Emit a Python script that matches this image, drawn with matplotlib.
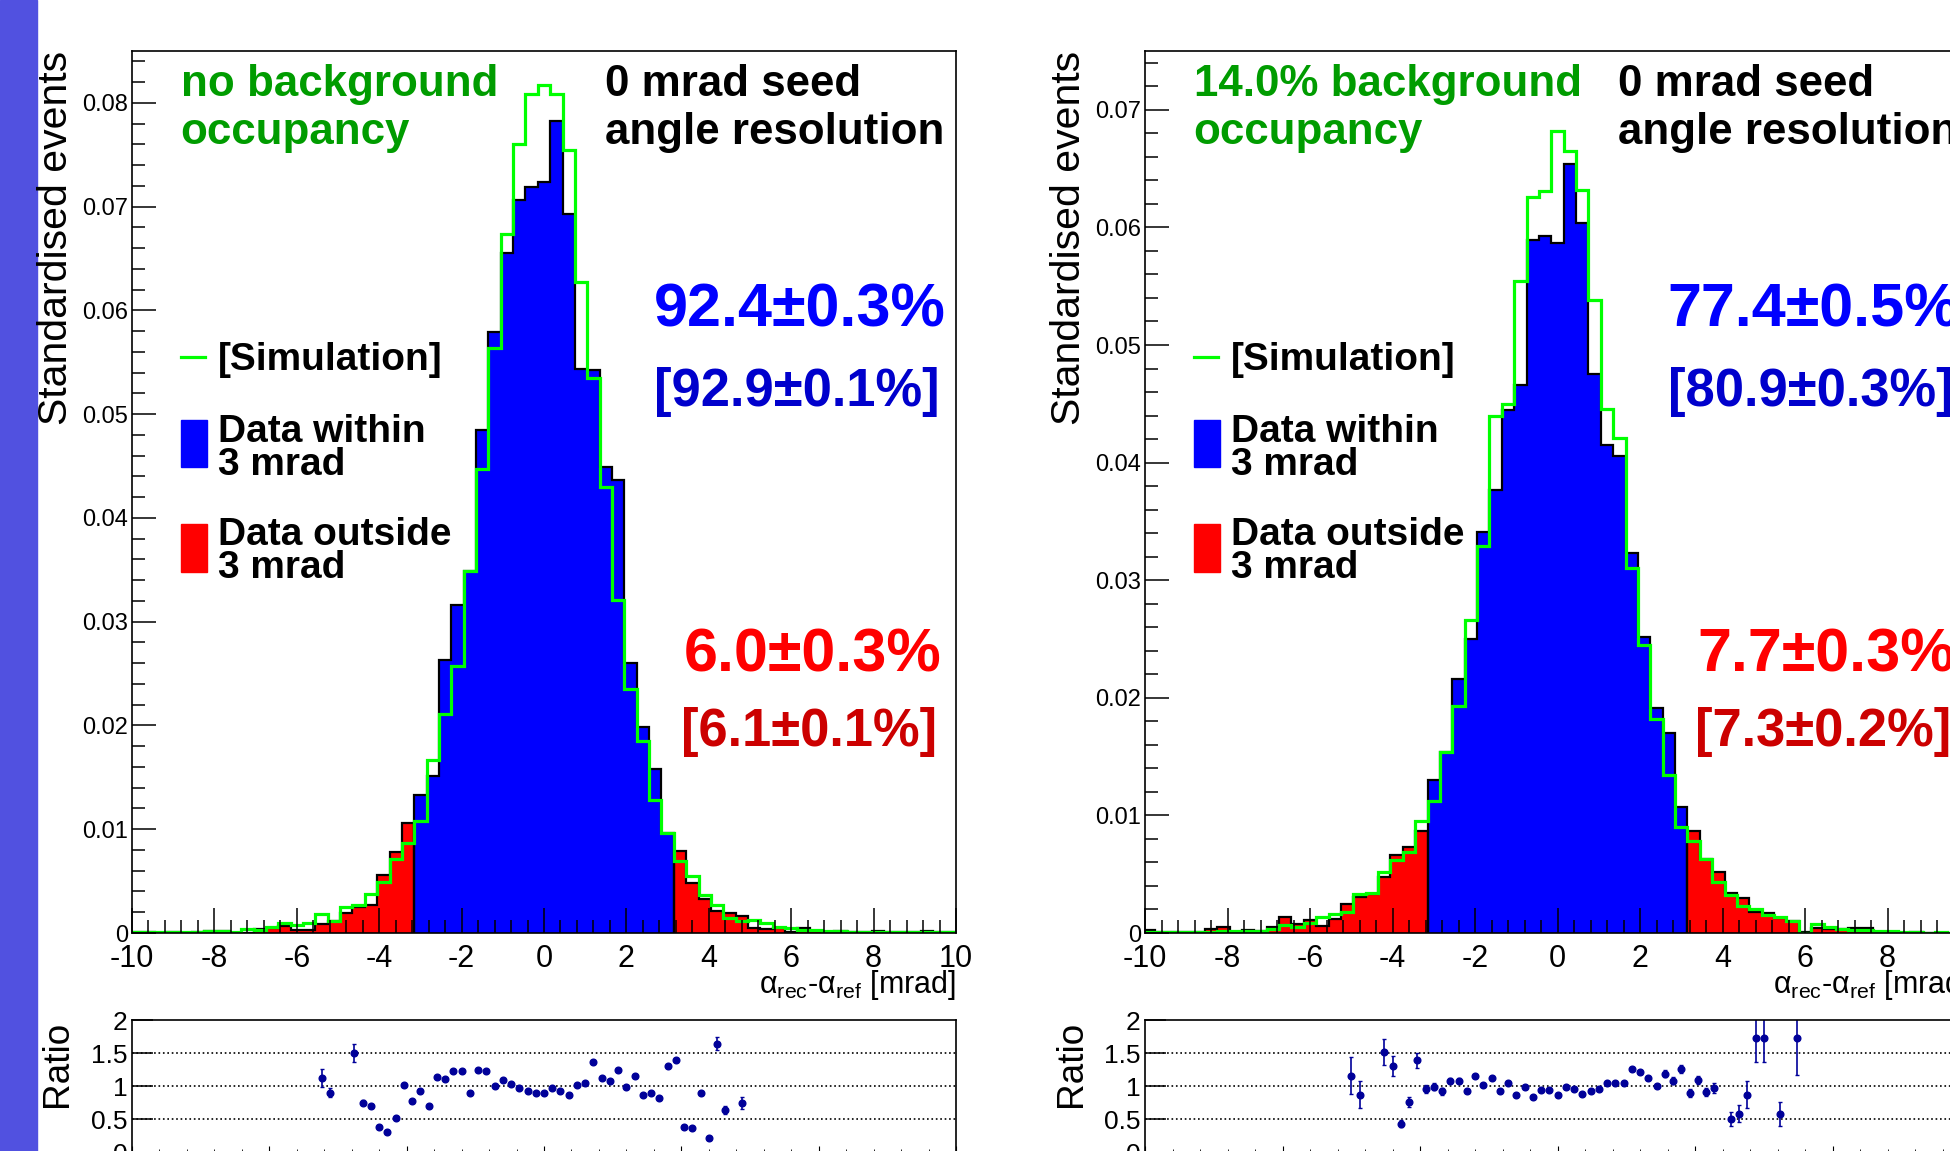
import numpy as np
import matplotlib.pyplot as plt
from matplotlib.patches import Rectangle
from matplotlib.ticker import MultipleLocator, FuncFormatter

plt.rcParams['font.family'] = ['Liberation Sans', 'DejaVu Sans']
plt.rcParams['mathtext.fontset'] = 'custom'
plt.rcParams['mathtext.rm'] = 'Liberation Sans'
plt.rcParams['axes.unicode_minus'] = False

W, H = 1950, 1151

# bins of 0.3 mrad, centred on 0.3*m
bin_width = 0.3
bin_m = np.arange(-33, 34)

# left: no background
data_L = [0.00005, 0.00005, 0.0, 0.00005, 0.0, 0.0001, 0.0002, 0.00018, 0.0, 0.0,
          0.0004, 0.00045, 0.0007, 0.0003, 0.0003, 0.0009, 0.0012, 0.0019, 0.0025, 0.0027,
          0.0056, 0.0078, 0.0106, 0.0133, 0.0151, 0.0263, 0.0316, 0.0349, 0.0485, 0.0579,
          0.0655, 0.0706, 0.0719, 0.0724, 0.0783, 0.0693, 0.0544, 0.0543, 0.0449, 0.0437,
          0.0260, 0.0199, 0.0158, 0.0096, 0.0079, 0.0048, 0.0033, 0.0021, 0.0019, 0.0016,
          0.0005, 0.00035, 0.0005, 0.0001, 0.0005, 0.0002, 0.0, 0.00015, 0.00005, 0.00005,
          0.0002, 0.0001, 0.00005, 0.00005, 0.0002, 0.00005, 0.00005]
sim_L = [0.00005, 0.00005, 0.00005, 0.00005, 0.00005, 0.0001, 0.0002, 0.0002, 0.0001, 0.0004,
         0.00026, 0.0006, 0.0010, 0.0008, 0.0010, 0.0018, 0.0012, 0.0025, 0.0027, 0.0038,
         0.0049, 0.0071, 0.0087, 0.0108, 0.0167, 0.0211, 0.0257, 0.0349, 0.0447, 0.0564,
         0.0674, 0.0760, 0.0809, 0.0817, 0.0809, 0.0755, 0.0627, 0.0535, 0.0430, 0.0321,
         0.0235, 0.0185, 0.0128, 0.0096, 0.0069, 0.0055, 0.0037, 0.0027, 0.00145, 0.00115,
         0.0013, 0.0010, 0.0006, 0.00045, 0.0003, 0.0003, 0.0002, 0.0002, 0.0001, 0.0001,
         0.0001, 0.0001, 0.0001, 0.00005, 0.00005, 0.00005, 0.0001]

# right: 14% background
data_R = [0.00025, 0.0001, 0.00005, 0.0001, 0.0001, 0.0003, 0.0005, 0.0001, 0.00023, 0.00017,
          0.0005, 0.0014, 0.0008, 0.0011, 0.0006, 0.0012, 0.0025, 0.0031, 0.0033, 0.0048,
          0.0066, 0.0073, 0.0087, 0.0130, 0.0154, 0.0216, 0.0250, 0.0341, 0.0377, 0.0445,
          0.0466, 0.0589, 0.0593, 0.0587, 0.0654, 0.0604, 0.0475, 0.0415, 0.0406, 0.0323,
          0.0252, 0.0191, 0.0170, 0.0107, 0.0087, 0.0063, 0.0052, 0.0034, 0.0030, 0.0018,
          0.0017, 0.0013, 0.0010, 0.0001, 0.0004, 0.0003, 0.0003, 0.0004, 0.0004, 0.0,
          0.0001, 0.0, 0.0001, 0.0, 0.0, 0.0, 0.0]
sim_R = [0.00005, 0.00005, 0.00005, 0.0001, 0.0001, 0.0001, 0.0002, 0.0002, 0.0002, 0.0002,
         0.0003, 0.0007, 0.00053, 0.00085, 0.0014, 0.0016, 0.0018, 0.0033, 0.0034, 0.0052,
         0.0062, 0.0069, 0.0095, 0.0112, 0.0154, 0.0193, 0.0266, 0.0329, 0.0440, 0.0450,
         0.0554, 0.0626, 0.0631, 0.0682, 0.0665, 0.0632, 0.0538, 0.0446, 0.0421, 0.0310,
         0.0245, 0.0182, 0.0134, 0.0090, 0.0078, 0.0063, 0.0043, 0.0032, 0.0023, 0.0020,
         0.00155, 0.0014, 0.0010, 0.0, 0.0008, 0.0005, 0.00035, 0.00023, 0.00023, 0.0002,
         0.00017, 0.0001, 0.00006, 0.0, 0.0001, 0.0, 0.0001]

# ratio points (bin index m, value, error)
ratio_m_L = [-27, -26] + list(range(-23, 23)) + [24]
ratio_y_L = [1.12, 0.90, 1.50, 0.75, 0.70, 0.38, 0.30, 0.52, 1.02, 0.78, 0.93, 0.70,
             1.13, 1.11, 1.23, 1.23, 0.90, 1.24, 1.23, 1.00, 1.09, 1.03, 0.97, 0.93,
             0.89, 0.89, 0.97, 0.92, 0.87, 1.02, 1.04, 1.36, 1.12, 1.08, 1.24, 0.99,
             1.16, 0.87, 0.90, 0.82, 1.31, 1.40, 0.38, 0.36, 0.90, 0.22, 1.64, 0.64, 0.75]
ratio_e_L = [0.14, 0.07, 0.13, 0.04, 0.03, 0.03, 0.03, 0.03, 0.03, 0.03, 0.03, 0.03,
             0.03, 0.02, 0.02, 0.02, 0.02, 0.02, 0.02, 0.02, 0.02, 0.02, 0.02, 0.02,
             0.02, 0.02, 0.02, 0.02, 0.02, 0.02, 0.02, 0.02, 0.02, 0.02, 0.02, 0.02,
             0.02, 0.02, 0.02, 0.02, 0.03, 0.03, 0.03, 0.03, 0.03, 0.03, 0.10, 0.06, 0.09]

ratio_m_R = [-25, -24] + list(range(-21, 20)) + [21, 22, 23, 24, 25, 27, 29]
ratio_y_R = [1.16, 0.87, 1.52, 1.31, 0.43, 0.76, 1.39, 0.96, 0.99, 0.92, 1.08, 1.08,
             0.92, 1.15, 1.01, 1.12, 0.93, 1.04, 0.86, 0.99, 0.84, 0.94, 0.94, 0.86,
             0.99, 0.96, 0.88, 0.93, 0.96, 1.05, 1.05, 1.05, 1.26, 1.21, 1.12, 1.00,
             1.19, 1.08, 1.26, 0.90, 1.09, 0.91, 0.97, 0.50, 0.58, 0.87, 1.73, 1.73,
             0.58, 1.73]
ratio_e_R = [0.28, 0.20, 0.20, 0.15, 0.05, 0.08, 0.11, 0.06, 0.05, 0.05, 0.04, 0.04,
             0.03, 0.03, 0.03, 0.03, 0.03, 0.03, 0.03, 0.03, 0.03, 0.03, 0.03, 0.03,
             0.03, 0.03, 0.03, 0.03, 0.03, 0.03, 0.03, 0.03, 0.03, 0.03, 0.03, 0.03,
             0.05, 0.05, 0.06, 0.06, 0.06, 0.06, 0.07, 0.11, 0.13, 0.20, 0.36, 0.36,
             0.18, 0.56]

edges = np.append(bin_m - 0.5, bin_m[-1] + 0.5) * bin_width
inside = np.abs(bin_m) <= 10


def ytick_fmt(v, pos):
    if abs(v) < 1e-9:
        return '0'
    return '%.2f' % v


def draw_panel(fig, x0, width, data, sim, ymax, head1, head2,
               pin, pin_sim, pout, pout_sim, rm, ry, re):
    data = np.asarray(data)
    sim = np.asarray(sim)
    ax = fig.add_axes([x0 / W, 1 - 933 / H, width / W, 882 / H])
    i0 = np.argmax(inside)
    i1 = i0 + inside.sum()
    segs = [(0, i0, 'red'), (i0, i1, 'blue'), (i1, len(data), 'red')]
    for a, b, c in segs:
        ax.stairs(data[a:b], edges[a:b + 1], fill=True, color=c, lw=0)
    for a, b, c in segs:
        ax.stairs(data[a:b], edges[a:b + 1], color='black', lw=1.6, baseline=0)
    ax.stairs(sim, edges, color='#00ff00', lw=2.3, baseline=None)
    ax.set_xlim(-10, 10)
    ax.set_ylim(0, ymax)
    ax.xaxis.set_major_locator(MultipleLocator(2))
    ax.xaxis.set_minor_locator(MultipleLocator(0.4))
    ax.yaxis.set_major_locator(MultipleLocator(0.01))
    ax.yaxis.set_minor_locator(MultipleLocator(0.002))
    ax.yaxis.set_major_formatter(FuncFormatter(ytick_fmt))
    ax.tick_params(axis='x', which='major', direction='in', length=18, width=1.1,
                   labelsize=22, pad=8, top=False)
    ax.tick_params(axis='x', which='minor', direction='in', length=9.5, width=1.1, top=False)
    ax.tick_params(axis='y', which='major', direction='in', length=17, width=1.1,
                   labelsize=17, pad=3, right=False)
    ax.tick_params(axis='y', which='minor', direction='in', length=9, width=1.1, right=False)
    for sp in ax.spines.values():
        sp.set_linewidth(1.2)

    ax.text(1.0, -0.068, r'α$_{\rm rec}$-α$_{\rm ref}$ [mrad]', transform=ax.transAxes,
            ha='right', va='baseline', fontsize=22)

    tk = dict(transform=ax.transAxes, va='baseline', fontweight='bold')
    ax.text(0.0589, 0.949, head1, color='#009c00', fontsize=31.6, ha='left', **tk)
    ax.text(0.0589, 0.8946, head2, color='#009c00', fontsize=31.6, ha='left', **tk)
    ax.text(0.5736, 0.949, '0 mrad seed', color='black', fontsize=31.6, ha='left', **tk)
    ax.text(0.5736, 0.8946, 'angle resolution', color='black', fontsize=31.6, ha='left', **tk)
    ax.text(0.987, 0.688, pin, color='#0000ff', fontsize=44, ha='right', **tk)
    ax.text(0.980, 0.597, pin_sim, color='#0000cc', fontsize=37.8, ha='right', **tk)
    ax.text(0.982, 0.296, pout, color='#ff0000', fontsize=44, ha='right', **tk)
    ax.text(0.977, 0.212, pout_sim, color='#cc0000', fontsize=37.8, ha='right', **tk)

    # legend
    ax.plot([0.0589, 0.089], [0.653, 0.653], color='#00ff00', lw=2.3,
            transform=ax.transAxes)
    ax.text(0.104, 0.638, '[Simulation]', fontsize=28, ha='left', **tk)
    ax.add_patch(Rectangle((0.0589, 0.528), 0.0317, 0.0535, color='blue',
                           transform=ax.transAxes))
    ax.text(0.104, 0.557, 'Data within', fontsize=28, ha='left', **tk)
    ax.text(0.104, 0.519, '3 mrad', fontsize=28, ha='left', **tk)
    ax.add_patch(Rectangle((0.0589, 0.409), 0.0317, 0.055, color='red',
                           transform=ax.transAxes))
    ax.text(0.104, 0.440, 'Data outside', fontsize=28, ha='left', **tk)
    ax.text(0.104, 0.402, '3 mrad', fontsize=28, ha='left', **tk)

    fig.text((x0 - 76) / W, 1 - 51 / H, 'Standardised events', rotation=90,
             ha='center', va='top', fontsize=29.5)

    # ratio pad
    rx = fig.add_axes([x0 / W, -0.001, width / W, 131 / H + 0.001])
    rx.errorbar(np.asarray(rm) * bin_width, ry, yerr=re, fmt='o', color='#000099',
                ms=4.8, elinewidth=1.2, capsize=1.5, capthick=1.0)
    for lvl in (0.5, 1.0, 1.5):
        rx.axhline(lvl, color='black', ls=':', lw=1.2, zorder=0)
    rx.set_xlim(-15, 15)
    rx.set_ylim(0, 2)
    rx.xaxis.set_major_locator(MultipleLocator(5))
    rx.xaxis.set_minor_locator(MultipleLocator(1))
    rx.set_yticks([0, 0.5, 1, 1.5, 2])
    rx.set_yticklabels(['0', '0.5', '1', '1.5', '2'])
    rx.tick_params(axis='x', which='major', direction='in', length=4, labelbottom=False, top=False)
    rx.tick_params(axis='x', which='minor', direction='in', length=2, top=False)
    rx.tick_params(axis='y', which='major', direction='in', length=15, width=1.1,
                   labelsize=19, pad=3, right=False)
    for sp in rx.spines.values():
        sp.set_linewidth(1.2)
    fig.text((x0 - 74) / W, 1 - 1021 / H, 'Ratio', rotation=90,
             ha='center', va='top', fontsize=26.6)


fig = plt.figure(figsize=(W / 100, H / 100), dpi=100)
fig.patches.append(Rectangle((0, 0), 37 / W, 1, transform=fig.transFigure,
                             color='#5151e0', zorder=0))

draw_panel(fig, 132, 824, data_L, sim_L, 0.085, 'no background', 'occupancy',
           '92.4±0.3%', '[92.9±0.1%]', '6.0±0.3%', '[6.1±0.1%]',
           ratio_m_L, ratio_y_L, ratio_e_L)
draw_panel(fig, 1145, 825, data_R, sim_R, 0.075, '14.0% background', 'occupancy',
           '77.4±0.5%', '[80.9±0.3%]', '7.7±0.3%', '[7.3±0.2%]',
           ratio_m_R, ratio_y_R, ratio_e_R)

fig.savefig('out.png', dpi=100)
